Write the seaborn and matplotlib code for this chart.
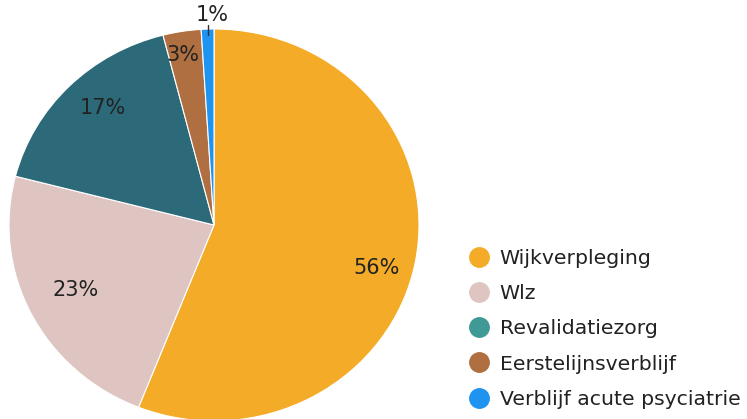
import matplotlib
matplotlib.use("Agg")
import matplotlib.pyplot as plt
import seaborn as sns
from matplotlib.lines import Line2D

sns.set_theme(style="white")
plt.rcParams['font.family'] = ['DejaVu Sans']

categories = ["Wijkverpleging", "Wlz", "Revalidatiezorg", "Eerstelijnsverblijf", "Verblijf acute psyciatrie"]
values = [56, 23, 17, 3, 1]
pie_colors = ["#F4AB28", "#DEC5C1", "#2C6A7A", "#B06F40", "#1E93F0"]
legend_colors = ["#F4AB28", "#DEC5C1", "#3F9A96", "#B06F40", "#1E93F0"]
label_pos = [(0.795, -0.22), (-0.673, -0.332), (-0.541, 0.597), (-0.151, 0.867), (-0.01, 1.07)]

fig = plt.figure(figsize=(7.47, 4.19), dpi=100)
ax = fig.add_axes([9/747, -2/419, 410/747, 392/419])
wedges, texts, autotexts = ax.pie(values, colors=pie_colors, startangle=90, counterclock=False,
                                  autopct="%d%%", pctdistance=0.8,
                                  wedgeprops=dict(edgecolor="white", linewidth=0.8),
                                  textprops=dict(fontsize=15, color="#222222"))
ax.set_aspect('auto')
ax.set_xlim(-1, 1)
ax.set_ylim(-1, 1)
ax.axis('off')

for t, p in zip(autotexts, label_pos):
    t.set_position(p)
    t.set_clip_on(False)
ax.plot([-0.03, -0.03], [0.97, 1.02], color="#333333", lw=1, clip_on=False)

handles = [Line2D([0], [0], marker='o', linestyle='none', markersize=14,
                  markerfacecolor=c, markeredgecolor=c) for c in legend_colors]
fig.legend(handles, categories, loc='upper left', bbox_to_anchor=(460/747, 1 - 241/419),
           frameon=False, fontsize=14.7, labelspacing=0.79, handletextpad=0.45,
           labelcolor="#222222", borderaxespad=0, handlelength=1.1)

fig.savefig("out.png", dpi=100)
